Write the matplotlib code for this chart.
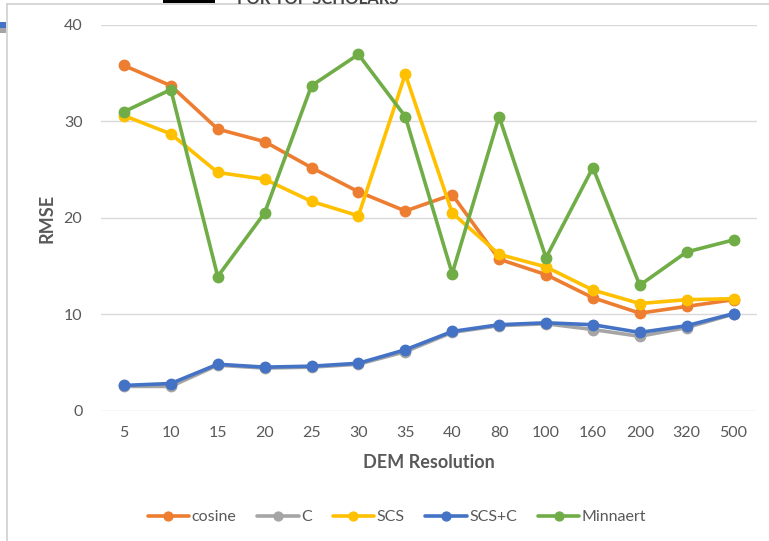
import matplotlib
matplotlib.use("Agg")
import matplotlib.pyplot as plt
from matplotlib.patches import Rectangle
from matplotlib.lines import Line2D

# DEM resolutions (category axis)
resolutions = ["5", "10", "15", "20", "25", "30", "35", "40", "80", "100", "160", "200", "320", "500"]

# RMSE of each topographic correction method
cosine = [35.8, 33.7, 29.2, 27.9, 25.2, 22.7, 20.7, 22.4, 15.7, 14.1, 11.7, 10.1, 10.8, 11.5]
c_corr = [2.5, 2.5, 4.7, 4.4, 4.5, 4.8, 6.1, 8.1, 8.8, 9.0, 8.4, 7.7, 8.6, 10.0]
scs = [30.6, 28.7, 24.7, 24.0, 21.7, 20.2, 34.9, 20.5, 16.2, 14.9, 12.5, 11.1, 11.5, 11.6]
scs_c = [2.6, 2.8, 4.8, 4.5, 4.6, 4.9, 6.3, 8.2, 8.9, 9.1, 8.9, 8.1, 8.8, 10.05]
minnaert = [31.0, 33.3, 13.9, 20.5, 33.7, 36.95, 30.5, 14.2, 30.5, 15.85, 25.2, 13.0, 16.45, 17.7]

series = [
    ("cosine", cosine, "#ED7D31"),
    ("C", c_corr, "#A5A5A5"),
    ("SCS", scs, "#FFC000"),
    ("SCS+C", scs_c, "#4472C4"),
    ("Minnaert", minnaert, "#70AD47"),
]

plt.rcParams["font.family"] = ["Lato", "DejaVu Sans"]
TXT = "#595959"

W, H = 769, 541
fig = plt.figure(figsize=(W / 100, H / 100), dpi=100)
fig.patch.set_facecolor("white")

# chart frame and page decorations
fig.add_artist(Line2D([7 / W, 7 / W], [0, 1 - 4 / H], color="#D0D0D0", lw=1.2))
fig.add_artist(Line2D([7 / W, 1], [1 - 4 / H, 1 - 4 / H], color="#D0D0D0", lw=1.2))
fig.add_artist(Rectangle((0, 1 - 28 / H), 6 / W, 6 / H, color="#4472C4", lw=0))
fig.add_artist(Rectangle((0, 1 - 33 / H), 6 / W, 5 / H, color="#A5A5A5", lw=0))
fig.add_artist(Rectangle((163 / W, 1 - 3 / H), 52 / W, 3 / H, color="black", lw=0))
fig.text(318 / W, 1 - 4 / H, "FOR TOP SCHOLARS", ha="center", va="baseline",
         fontsize=12, fontweight="bold", color="#444444")

ax = fig.add_axes([100.5 / W, 1 - 410.5 / H, (757 - 100.5) / W, (410.5 - 25) / H])
x = list(range(len(resolutions)))
for name, vals, col in series:
    ax.plot(x, vals, color=col, lw=2.6, marker="o", markersize=7.5, label=name,
            solid_capstyle="round", solid_joinstyle="round")

ax.set_xlim(-0.5, len(resolutions) - 0.5)
ax.set_ylim(0, 40)
ax.set_yticks([0, 10, 20, 30, 40])
ax.set_xticks(x)
ax.set_xticklabels(resolutions)
ax.grid(axis="y", color="#D9D9D9", lw=1)
ax.set_axisbelow(True)
for s in ax.spines.values():
    s.set_visible(False)
ax.tick_params(length=0, labelsize=11.5, labelcolor=TXT)
ax.tick_params(axis="y", pad=13)
ax.tick_params(axis="x", pad=11)

fig.text(47 / W, 1 - 218 / H, "RMSE", rotation=90, ha="center", va="center",
         fontsize=13, fontweight="bold", color=TXT)
fig.text(428.75 / W, 1 - 463 / H, "DEM Resolution", ha="center", va="center",
         fontsize=13, fontweight="bold", color=TXT)

handles, labels = ax.get_legend_handles_labels()
fig.legend(handles, labels, loc="center", bbox_to_anchor=(397 / W, 1 - 517 / H),
           ncol=5, frameon=False, fontsize=11.5, labelcolor=TXT,
           handlelength=2.6, handletextpad=0.15, columnspacing=1.3, markerscale=0.85)

fig.savefig("out.png", dpi=100, facecolor="white")
